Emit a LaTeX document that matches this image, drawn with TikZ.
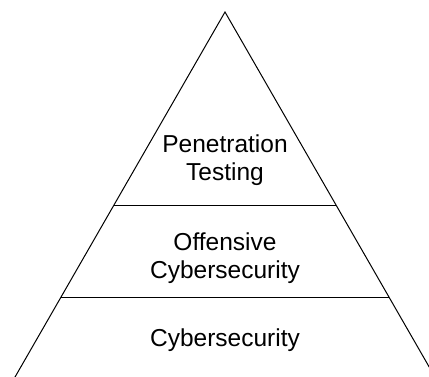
\documentclass[tikz,border=0pt]{standalone}
\usepackage{fontspec}
\setmainfont{Liberation Sans}
\begin{document}
\begin{tikzpicture}[x=1pt,y=-1pt,
  seg/.style={line width=1pt, draw=black},
  txt/.style={font=\fontsize{24.5}{28}\selectfont, align=center, anchor=base, inner sep=0pt}]
\useasboundingbox (0,0) rectangle (429,376);
\clip (0,0) rectangle (429,376);
\coordinate (apex) at (225,12);
\coordinate (bl) at (6.4,392);
\coordinate (br) at (443.6,392);
\coordinate (l1) at (114,205);
\coordinate (r1) at (336,205);
\coordinate (l2) at (61,297);
\coordinate (r2) at (389,297);
\draw[seg] (bl) -- (apex) -- (br);
\draw[seg] (l1) -- (r1);
\draw[seg] (l2) -- (r2);
\node[txt] (pt) at (225,180) {Penetration\\Testing};
\node[txt] (oc) at (225,278) {Offensive\\Cybersecurity};
\node[txt] (cy) at (225,346) {Cybersecurity};
\end{tikzpicture}
\end{document}
